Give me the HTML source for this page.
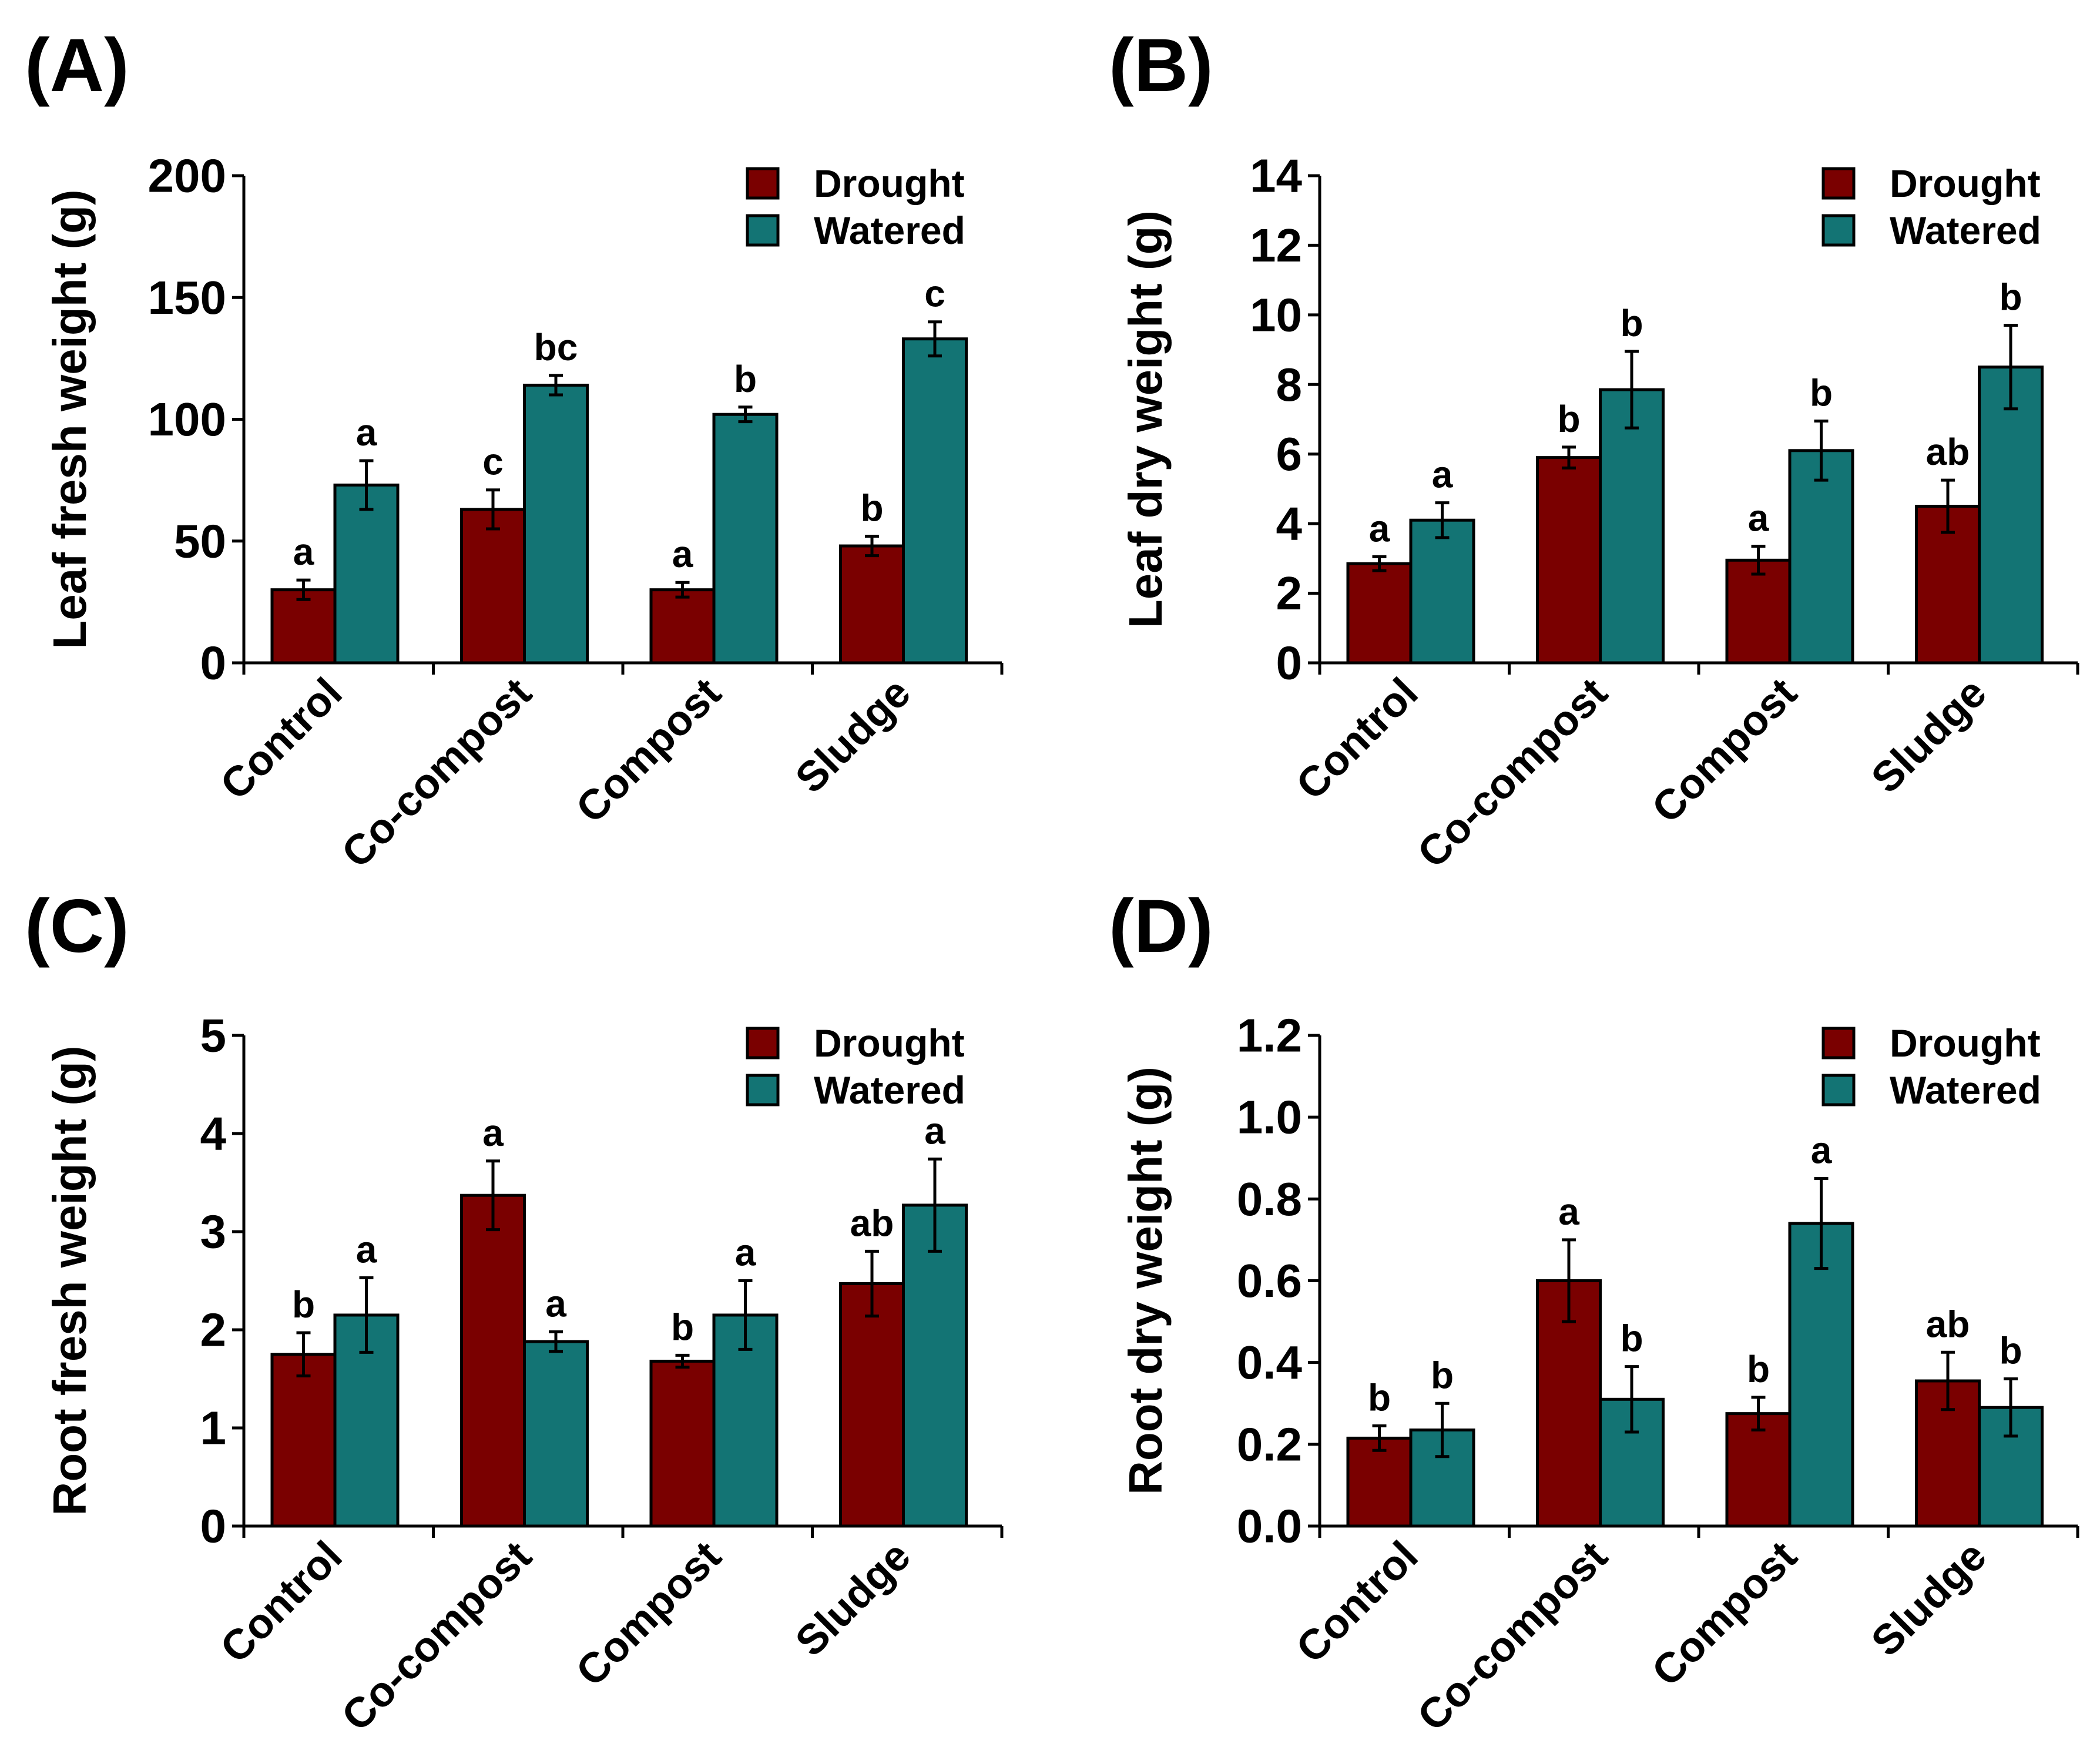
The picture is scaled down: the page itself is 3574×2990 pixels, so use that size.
<!DOCTYPE html>
<html><head><meta charset="utf-8">
<style>html,body{margin:0;padding:0;background:#fff}svg{display:block}text{font-family:"Liberation Sans",Arial,sans-serif;font-weight:bold;fill:#000}</style>
</head><body>
<svg id="fig" width="3574" height="2990" viewBox="0 0 3574 2990" xmlns="http://www.w3.org/2000/svg"></svg>
<script>
const categories = ["Control","Co-compost","Compost","Sludge"];
const seriesNames = ["Drought","Watered"];
const aDrought = [30,63,30,48], aDroughtErr = [4,8,3,4];
const aWatered = [73,114,102,133], aWateredErr = [10,4,3,7];
const aLettersD = ["a","c","a","b"], aLettersW = ["a","bc","b","c"];
const aTicks = [0,50,100,150,200];
const bDrought = [2.85,5.9,2.95,4.5], bDroughtErr = [0.2,0.3,0.4,0.75];
const bWatered = [4.1,7.85,6.1,8.5], bWateredErr = [0.5,1.1,0.85,1.2];
const bLettersD = ["a","b","a","ab"], bLettersW = ["a","b","b","b"];
const bTicks = [0,2,4,6,8,10,12,14];
const cDrought = [1.75,3.37,1.68,2.47], cDroughtErr = [0.22,0.35,0.06,0.33];
const cWatered = [2.15,1.88,2.15,3.27], cWateredErr = [0.38,0.1,0.35,0.47];
const cLettersD = ["b","a","b","ab"], cLettersW = ["a","a","a","a"];
const cTicks = [0,1,2,3,4,5];
const dDrought = [0.215,0.60,0.275,0.355], dDroughtErr = [0.03,0.1,0.04,0.07];
const dWatered = [0.235,0.31,0.74,0.29], dWateredErr = [0.065,0.08,0.11,0.07];
const dLettersD = ["b","a","b","ab"], dLettersW = ["b","b","a","b"];
const dTicks = [0.0,0.2,0.4,0.6,0.8,1.0,1.2];

const NS="http://www.w3.org/2000/svg";
const svg=document.getElementById('fig');
function mk(tag,attrs,parent,text){const e=document.createElementNS(NS,tag);for(const k in attrs)e.setAttribute(k,attrs[k]);if(text!==undefined)e.textContent=text;(parent||svg).appendChild(e);return e;}
const colors=["#7a0000","#137474"];

function panel(o){
  const g=mk('g',{});
  
  
  const x0=o.x0, x1=o.x0+1290, yTop=o.yTop, yZero=o.yZero, ymax=o.ticks[o.ticks.length-1];
  const yS=v=>yZero-(v/ymax)*(yZero-yTop);
  const gw=(x1-x0)/categories.length, bw=107;
  const lab=mk('text',{x:o.lx,y:o.ly,'font-size':128},g,'('+o.id+')');
  
  
  const yt=mk('text',{transform:`translate(${x0-290},${(yTop+yZero)/2}) rotate(-90)`,'text-anchor':'middle','font-size':80,'dominant-baseline':'middle'},g,o.title);
  
  
  const sets=[[o.d,o.de,o.ld],[o.w,o.we,o.lw]];
  categories.forEach((c,i)=>{
    sets.forEach((s,j)=>{
      const bx=x0+gw*i+48+j*bw, v=s[0][i], e=s[1][i];
      const r=mk('rect',{x:bx,y:yS(v),width:bw,height:yZero-yS(v),fill:colors[j],stroke:'#000','stroke-width':5},g);
      
      
      const cx=bx+bw/2, t=yS(v+e), b=yS(v-e);
      const eb=mk('path',{d:`M${cx},${t}V${b}M${cx-12},${t}H${cx+12}M${cx-12},${b}H${cx+12}`,stroke:'#000','stroke-width':5,fill:'none'},g);
      
      
      const lt=mk('text',{x:cx,y:t-26,'text-anchor':'middle','font-size':64},g,s[2][i]);
      
      
    });
    const cx=x0+gw*i+gw/2+10;
    const cl=mk('text',{transform:`translate(${cx},${yZero+56}) rotate(-45)`,'text-anchor':'end','font-size':72},g,c);
    
    
  });
  const ax=mk('path',{d:`M${x0},${yTop}V${yZero}H${x1}`,stroke:'#000','stroke-width':5,fill:'none'},g);
  
  
  for(let i=0;i<=categories.length;i++){const xx=x0+gw*i;mk('line',{x1:xx,x2:xx,y1:yZero,y2:yZero+20,stroke:'#000','stroke-width':5},g);}
  o.ticks.forEach(t=>{
    mk('line',{x1:x0-20,x2:x0,y1:yS(t),y2:yS(t),stroke:'#000','stroke-width':5},g);
    const tl=mk('text',{x:x0-30,y:yS(t),'text-anchor':'end','dominant-baseline':'central','font-size':80},g,o.fmt(t));
    
    
  });
  seriesNames.forEach((n,j)=>{
    const ly=yTop-12+j*80;
    const sq=mk('rect',{x:x0+857,y:ly,width:52,height:50,fill:colors[j],stroke:'#000','stroke-width':5},g);
    
    
    const lt=mk('text',{x:x0+970,y:ly+25,'dominant-baseline':'central','font-size':66},g,n);
    
    
  });
}
panel({id:'A',x0:415,yTop:299,yZero:1128,lx:42,ly:155,ticks:aTicks,fmt:t=>String(t),title:'Leaf fresh weight (g)',d:aDrought,de:aDroughtErr,w:aWatered,we:aWateredErr,ld:aLettersD,lw:aLettersW});
panel({id:'B',x0:2246,yTop:299,yZero:1128,lx:1887,ly:155,ticks:bTicks,fmt:t=>String(t),title:'Leaf dry weight (g)',d:bDrought,de:bDroughtErr,w:bWatered,we:bWateredErr,ld:bLettersD,lw:bLettersW});
panel({id:'C',x0:415,yTop:1762,yZero:2597,lx:42,ly:1620,ticks:cTicks,fmt:t=>String(t),title:'Root fresh weight (g)',d:cDrought,de:cDroughtErr,w:cWatered,we:cWateredErr,ld:cLettersD,lw:cLettersW});
panel({id:'D',x0:2246,yTop:1762,yZero:2597,lx:1887,ly:1620,ticks:dTicks,fmt:t=>t.toFixed(1),title:'Root dry weight (g)',d:dDrought,de:dDroughtErr,w:dWatered,we:dWateredErr,ld:dLettersD,lw:dLettersW});
</script>
</body></html>
